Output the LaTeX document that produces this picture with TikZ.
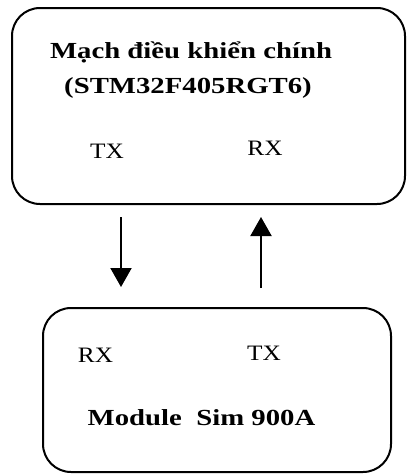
\documentclass[tikz,border=0pt]{standalone}
\usepackage{fontspec}
\usepackage{graphicx}
\setmainfont{Liberation Serif}
\usetikzlibrary{arrows.meta}
\newcommand{\stretchx}[2]{\scalebox{#1}[1]{#2}}
\tikzset{
    box/.style = {draw, line width=2pt, rounded corners=28pt, inner sep=0pt},
    ttl/.style = {anchor=base, inner sep=0pt, font=\fontsize{23}{28}\selectfont\bfseries},
    lbl/.style = {anchor=base, inner sep=0pt, font=\fontsize{22}{26}\selectfont},
    flow/.style = {line width=2pt, -{Triangle[length=19pt,width=21pt]}}
}
\begin{document}
\begin{tikzpicture}[x=1pt,y=-1pt]
        \useasboundingbox (0,0) rectangle (408,474);
        % main board
        \node [box, minimum width=393pt, minimum height=196pt] (ctrl) at (208.5,106) {};
        \node [ttl] (title) at (191,58) {\stretchx{1.25}{Mạch điều khiển chính}};
        \node [ttl] (chip) at (188,93) {\stretchx{1.25}{(STM32F405RGT6)}};
        \node [lbl] (ctrltx) at (107,158) {\stretchx{1.15}{TX}};
        \node [lbl] (ctrlrx) at (265,155) {\stretchx{1.15}{RX}};
        % sim module
        \node [box, minimum width=348pt, minimum height=164pt] (sim) at (217,390) {};
        \node [lbl] (simrx) at (95.5,362) {\stretchx{1.15}{RX}};
        \node [lbl] (simtx) at (264,360.5) {\stretchx{1.15}{TX}};
        \node [ttl] (simname) at (201.5,425) {\stretchx{1.25}{Module\ \ Sim 900A}};
        % uart lines
        \coordinate (txline) at (121,0);
        \coordinate (rxline) at (261,0);
        \draw [flow, shorten <=12pt, shorten >=20pt] (ctrl.south -| txline) -- (sim.north -| txline);
        \draw [flow, shorten <=19pt, shorten >=12pt] (sim.north -| rxline) -- (ctrl.south -| rxline);
\end{tikzpicture}
\end{document}
